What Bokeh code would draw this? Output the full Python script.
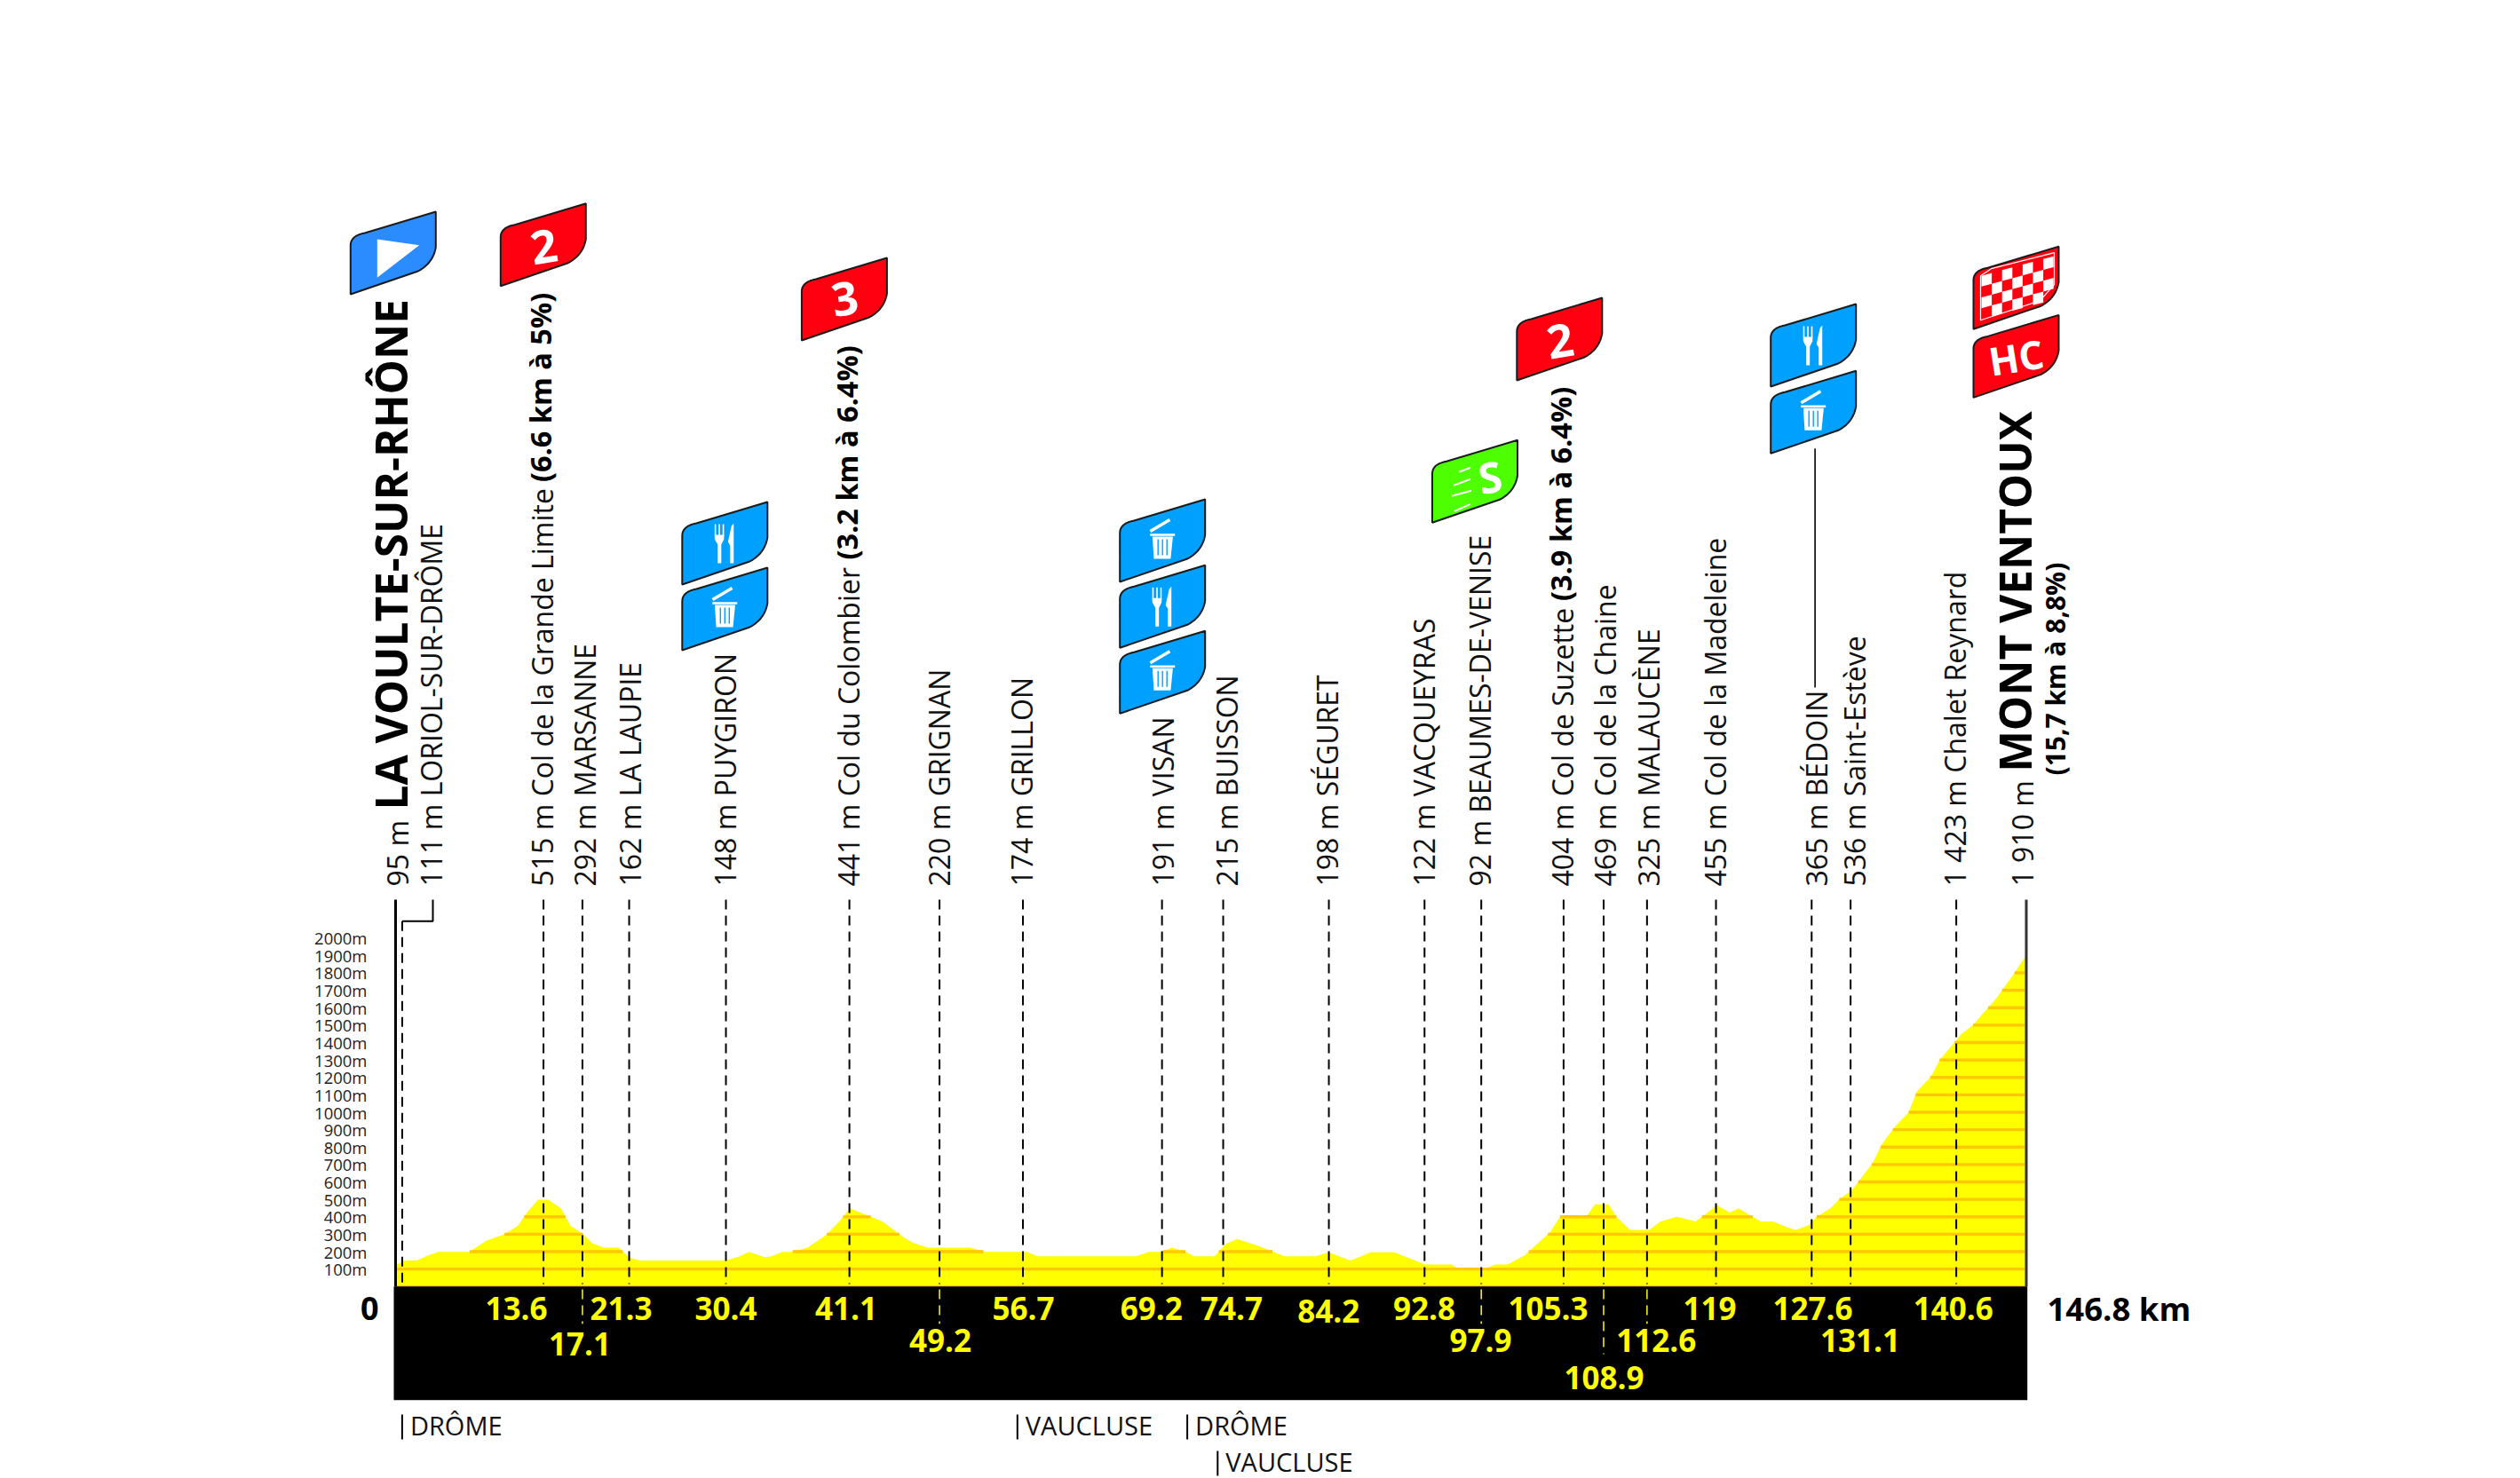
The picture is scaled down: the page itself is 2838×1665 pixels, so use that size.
import numpy as np
from bokeh.core.properties import value
from bokeh.embed import file_html
from bokeh.models import Range1d
from bokeh.plotting import figure
from bokeh.resources import INLINE

# elevation profile
profile_km = [0.41, 1.10, 2.20, 3.22, 4.15, 6.92, 8.43, 10.06, 11.28, 12.18, 13.11, 14.01, 15.15, 16.04,
              17.18, 18.00, 19.02, 20.36, 21.34, 22.27, 30.01, 31.23, 32.05, 33.47, 34.08, 35.10, 35.92,
              37.34, 38.97, 40.19, 41.13, 42.43, 44.06, 46.10, 46.91, 48.13, 52.00, 53.22, 54.98, 57.02,
              58.03, 66.87, 68.01, 69.23, 70.05, 71.19, 72.08, 73.92, 74.93, 75.95, 77.78, 80.23, 83.00,
              84.18, 86.13, 87.96, 90.08, 92.85, 95.21, 95.90, 98.14, 99.16, 100.26, 101.81, 104.05,
              104.98, 107.31, 108.12, 109.34, 110.03, 111.26, 113.01, 114.02, 115.45, 117.16, 118.33,
              119.07, 120.23, 121.02, 123.01, 124.14, 125.30, 126.15, 127.29, 128.05, 129.27, 130.10,
              131.23, 131.87, 133.09, 133.91, 135.08, 136.30, 137.06, 138.34, 139.11, 140.57, 141.03,
              142.10, 143.32, 144.15, 144.79, 145.77, 146.75]
profile_m = [126, 149, 149, 178, 199, 199, 262, 299, 348, 429, 498, 498, 450, 348,
             299, 247, 223, 223, 165, 149, 149, 173, 199, 169, 173, 199, 199,
             223, 294, 374, 448, 415, 374, 277, 249, 223, 223, 199, 199, 199,
             173, 173, 199, 199, 223, 204, 173, 173, 245, 273, 234, 173, 173,
             197, 149, 197, 197, 126, 126, 100, 100, 126, 126, 180, 310,
             400, 400, 471, 471, 402, 325, 325, 374, 400, 374, 428,
             467, 424, 448, 374, 374, 342, 325, 351, 400, 448, 502,
             554, 608, 709, 817, 917, 999, 1120, 1206, 1301, 1411, 1448,
             1500, 1591, 1649, 1707, 1794, 1889]

total_km = 146.8
band_levels = list(range(100, 1900, 100))
tick_levels = list(range(100, 2100, 100))

# passage points
mark_km = [0.9, 13.6, 17.1, 21.3, 30.0, 41.1, 49.2, 56.7, 69.2, 74.7, 84.2, 92.8, 97.9, 105.3, 108.9, 112.8,
           119.0, 127.6, 131.1, 140.6]
dash_depth = [0, 0, 1, 0, 0, 0, 1, 0, 0, 0, 0, 0, 1, 0, 2, 1, 0, 0, 0, 0]

place_names = ["95 m", "111 m LORIOL-SUR-DRÔME", "515 m Col de la Grande Limite", "292 m MARSANNE", "162 m LA LAUPIE",
               "148 m PUYGIRON", "441 m Col du Colombier", "220 m GRIGNAN", "174 m GRILLON", "191 m VISAN",
               "215 m BUISSON", "198 m SÉGURET", "122 m VACQUEYRAS", "92 m BEAUMES-DE-VENISE",
               "404 m Col de Suzette", "469 m Col de la Chaine", "325 m MALAUCÈNE", "455 m Col de la Madeleine",
               "365 m BÉDOIN", "536 m Saint-Estève", "1 423 m Chalet Reynard", "1 910 m"]
place_px = [458, 495.5, 620.8, 668.3, 719.3, 826.4, 965.2, 1067.3, 1160.7, 1319.3, 1391.7, 1504.3, 1613.7, 1676.8,
            1769.8, 1817.5, 1866.2, 1942, 2055.7, 2098.7, 2211.8, 2288]

climb_notes = ["(6.6 km à 5%)", "(3.2 km à 6.4%)", "(3.9 km à 6.4%)"]
climb_note_px = [(619, 542.6), (963.5, 630), (1768, 676.5)]

km_labels = ["13.6", "21.3", "30.4", "41.1", "56.7", "69.2", "74.7", "84.2", "92.8", "105.3", "119", "127.6", "140.6",
             "17.1", "49.2", "97.9", "112.6", "131.1", "108.9"]
km_label_px = [(581, 1473.5), (699, 1473.5), (817, 1473.5), (952.4, 1473.5), (1152, 1473.5), (1296.3, 1473.5),
               (1386.6, 1473.5), (1495.8, 1476.5), (1603.5, 1473.5), (1743, 1473.5), (1925, 1473.5), (2041, 1473.5),
               (2199.3, 1473.5), (652.4, 1513.5), (1058.6, 1509.5), (1667, 1509.5), (1864.7, 1509.5),
               (2094.4, 1509.5), (1806, 1551)]

departments = ["DRÔME", "VAUCLUSE", "DRÔME", "VAUCLUSE"]
department_px = [(452.4, 1605), (1145.3, 1605), (1336.6, 1605), (1370.8, 1646)]

W, H = 2838, 1665
X0, PX_PER_KM = 441.2, 12.528
Y0, PX_PER_M = 1448.8, 0.1963


def kx(px):
    return (np.asarray(px, dtype=float) - X0) / PX_PER_KM


def my(py):
    return (Y0 - np.asarray(py, dtype=float)) / PX_PER_M


p = figure(width=W, height=H, output_backend="svg", toolbar_location=None, min_border=0,
           x_range=Range1d(float(kx(0)), float(kx(W))), y_range=Range1d(float(my(H)), float(my(0))))
p.xaxis.visible = False
p.yaxis.visible = False
p.grid.visible = False
p.outline_line_color = None

OS = value("Open Sans")

# profile and its 100 m stripes
p.varea(x=[profile_km[0]] + profile_km + [total_km], y1=0, y2=[profile_m[0]] + profile_m + [profile_m[-1]],
        fill_color="#FFFF00")
grid_km = np.linspace(profile_km[0], profile_km[-1], 8000)
grid_m = np.interp(grid_km, profile_km, profile_m)
for level in band_levels:
    above = np.concatenate([[0], (grid_m >= level).astype(int), [0]])
    edges = np.flatnonzero(np.diff(above))
    for a, b in zip(edges[::2], edges[1::2]):
        p.line([grid_km[a], grid_km[b - 1]], [level, level], line_color="#FFC800", line_width=3.4)
p.line([kx(445), kx(2280)], [2, 2], line_color="#FFC800", line_width=2)

# black band and side rules
p.quad(left=kx(443), right=kx(2282.7), bottom=my(1576.8), top=0, fill_color="black", line_color=None)
p.line([kx(445)] * 2, [my(1013), 0], line_color="black", line_width=3)
p.line([kx(2281.5)] * 2, [my(1013), 0], line_color="#333333", line_width=3)

# dashed drop lines, yellow where they carry on in the band
for km, depth in zip(mark_km, dash_depth):
    top = 1037.3 if km < 1 else 1013
    p.line([km, km], [my(top), my(1446)], line_color="black", line_width=2, line_dash="11 7")
    if depth:
        p.line([km, km], [my(1452), my(1490.7 if depth == 1 else 1525)], line_color="#FFFF00", line_width=1.5,
               line_dash="11 7")
p.line(kx([452.4, 487, 487]), my([1037.3, 1037.3, 1013]), line_color="black", line_width=2)
p.line(kx([2043.6, 2043.6]), my([504.8, 774]), line_color="black", line_width=1.6)


# rotated text sits right of its alphabetic baseline by about a third of the size
def rotated(px, py, texts, size, bold=False):
    p.text(x=kx(np.asarray(px, dtype=float) - 0.33 * size), y=my(py), text=texts, angle=np.pi / 2, text_font=OS,
           text_font_size=f"{size}px", text_font_style="bold" if bold else "normal",
           text_color="black" if bold else "#111111", text_baseline="alphabetic", text_align="left")


rotated(place_px, [998] * len(place_px), place_names, 32)
rotated([a for a, _ in climb_note_px], [b for _, b in climb_note_px], climb_notes, 32.5, True)
rotated([455.5, 2285], [912, 869.3], ["LA VOULTE-SUR-RHÔNE", "MONT VENTOUX"], 49.5, True)
rotated([2324], [873], ["(15,7 km à 8,8%)"], 30, True)

# elevation ticks
p.text(x=kx([413] * len(tick_levels)), y=tick_levels, text=[f"{m}m" for m in tick_levels], text_font=OS,
       text_font_size="18.5px", text_color="#222222", text_align="right", text_baseline="middle")

# km numbers
p.text(x=kx([a for a, _ in km_label_px]), y=my([b for _, b in km_label_px]), text=km_labels, text_font=OS,
       text_font_size="35px", text_font_style="bold", text_color="#FFFF00", text_align="center",
       text_baseline="middle")
p.text(x=kx([415.7]), y=my([1473.5]), text=["0"], text_font=OS, text_font_size="36px", text_font_style="bold",
       text_color="black", text_align="center", text_baseline="middle")
p.text(x=kx([2305]), y=my([1473.5]), text=[f"{total_km} km"], text_font=OS, text_font_size="36.5px",
       text_font_style="bold", text_color="black", text_align="left", text_baseline="middle")

# departments
for name, (bx, by) in zip(departments, department_px):
    p.line([kx(bx)] * 2, my([by - 12, by + 16]), line_color="black", line_width=2)
    p.text(x=[kx(bx + 9)], y=[my(by)], text=[name], text_font=OS, text_font_size="29px", text_color="#111111",
           text_align="left", text_baseline="middle")


# flags
def flag_outline():
    t = np.linspace(0, 1, 14)
    dx = [0.0, 0.0]
    dy = [0.0, 55.0]
    dx += list(t ** 2 * 16)
    dy += list((1 - t) ** 2 * 55 + 2 * t * (1 - t) * 66 + t ** 2 * 69)
    dx += [96.0, 96.0]
    dy += [93.0, 53.0]
    dx += list((1 - t) ** 2 * 96 + 2 * t * (1 - t) * 93 + t ** 2 * 76)
    dy += list((1 - t) ** 2 * 53 + 2 * t * (1 - t) * 35 + t ** 2 * 26)
    return np.array(dx), np.array(dy)


def rel(bx, by, dx, dy):
    return kx(bx + np.asarray(dx, dtype=float)), my(by - np.asarray(dy, dtype=float))


def flag(bx, by, color):
    dx, dy = flag_outline()
    xs, ys = rel(bx, by, dx, dy)
    p.patch(xs, ys, fill_color=color, line_color="#1a1a1a", line_width=2)


def flag_text(bx, by, txt, dx, dy, size):
    xs, ys = rel(bx, by, [dx], [dy])
    p.text(x=xs, y=ys, text=[txt], angle=0.16, text_font=OS, text_font_size=size,
           text_font_style="bold", text_color="white", text_align="center", text_baseline="middle")


def white_patch(bx, by, dx, dy):
    xs, ys = rel(bx, by, dx, dy)
    p.patch(xs, ys, fill_color="white", line_color=None)


def white_line(bx, by, dx, dy, width=2.5, color="white"):
    xs, ys = rel(bx, by, dx, dy)
    p.line(xs, ys, line_color=color, line_width=width)


def feed_flag(bx, by):
    flag(bx, by, "#00A0FF")
    for d in [37.3, 41.8, 46.3]:
        white_line(bx, by, [d, d], [68, 54], 1.6)
    white_patch(bx, by, [36.6, 47, 47, 44, 44, 40, 40, 36.6], [56, 56, 51, 45, 24, 24, 45, 51])
    white_patch(bx, by, [54, 58, 58, 55.5, 51.5, 54], [24, 24, 69, 66, 48, 44])


def trash_flag(bx, by):
    flag(bx, by, "#00A0FF")
    white_line(bx, by, [34.2, 56.2], [57, 70], 3.5)
    white_line(bx, by, [34, 62], [53, 53], 2.5)
    white_patch(bx, by, [36.7, 59.7, 57.2, 38.2], [51, 51, 26, 26])
    for d in [43, 48, 53]:
        white_line(bx, by, [d, d], [48, 30], 1.4, "#00A0FF")


flag(394.3, 331, "#2A8CFF")
white_patch(394.3, 331, [30, 77.4, 30], [62, 55.3, 18.7])

for bx, by, txt, dy in [(563.3, 321.7, "2", 44.4), (902.4, 383, "3", 47), (1707.8, 428, "2", 44.4)]:
    flag(bx, by, "#FF0010")
    flag_text(bx, by, txt, 48.6, dy, "52px")

feed_flag(767.8, 658)
trash_flag(767.8, 732)
trash_flag(1260.7, 655)
feed_flag(1260.7, 729.3)
trash_flag(1260.7, 803.3)
feed_flag(1993.7, 435)
trash_flag(1993.7, 510.3)

# intermediate sprint
flag(1612.5, 588.3, "#4DFF00")
flag_text(1612.5, 588.3, "S", 65, 51.8, "48px")
for x0, x1, y0, y1 in [(30, 43, 57, 62), (24, 43, 42, 49), (22, 44, 30, 36), (25, 43, 13, 21)]:
    white_line(1612.5, 588.3, [x0, x1], [y0, y1], 2)

# finish flag with its chequers
flag(2222, 370.2, "#FF0010")
inset = [(8, 10), (8, 60), (20, 68), (91, 86), (91, 50), (75, 32)]
inx, iny = rel(2222, 370.2, [a for a, _ in inset], [b for _, b in inset])
p.patch(inx, iny, fill_color="#FF0010", line_color="white", line_width=1.2)
for col in range(7):
    for row in range(4):
        if (col + row) % 2 == 0 or (col == 6 and row == 0):
            continue
        x0, x1 = 9 + col * 11.6, 9 + (col + 1) * 11.6
        sl0, sl1 = 0.27 * (x0 - 8), 0.27 * (x1 - 8)
        white_patch(2222, 370.2, [x0, x1, x1, x0],
                    [11 + row * 12.2 + sl0, 11 + row * 12.2 + sl1, 11 + (row + 1) * 12.2 + sl1,
                     11 + (row + 1) * 12.2 + sl0])

flag(2222, 447.4, "#FF0010")
flag_text(2222, 447.4, "HC", 48, 45.7, "44px")

open("out.html", "w").write(file_html(p, INLINE))
